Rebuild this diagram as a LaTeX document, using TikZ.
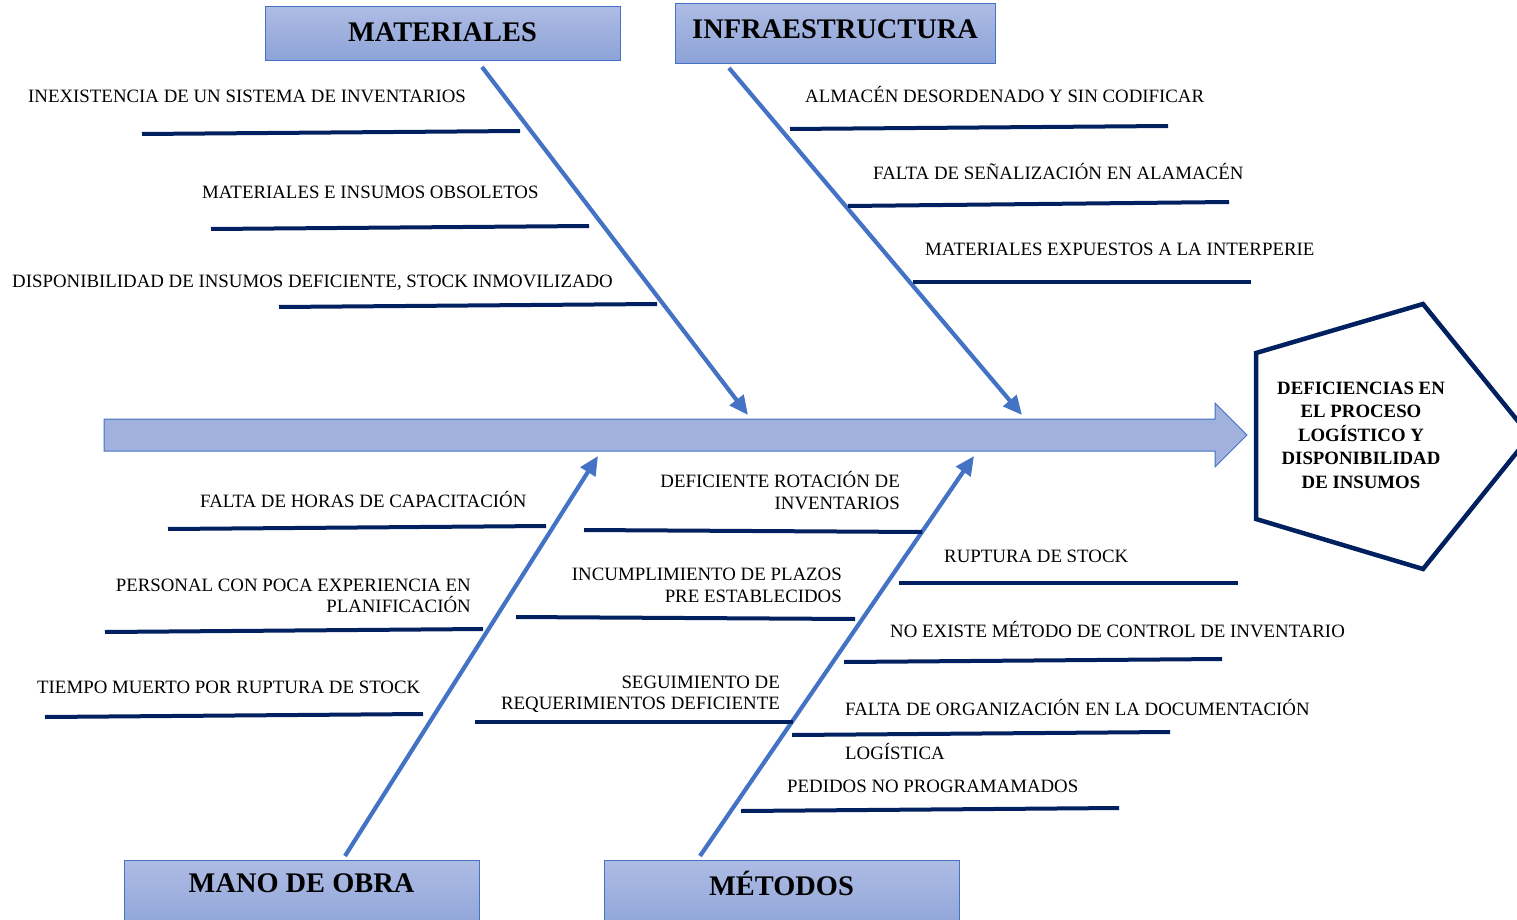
\documentclass[tikz,border=0pt]{standalone}
\usepackage{fontspec}
\setmainfont{Liberation Serif}
\usetikzlibrary{arrows.meta}
\definecolor{navy}{RGB}{0,32,96}
\definecolor{bblue}{RGB}{68,114,196}
\definecolor{boxtop}{RGB}{174,188,228}
\definecolor{boxbot}{RGB}{140,162,215}
\definecolor{arrfill}{RGB}{160,177,221}
\tikzset{
  branch/.style={draw=navy, line width=4pt},
  bone/.style={draw=bblue, line width=4.2pt, -{Triangle[length=19pt,width=17pt]}},
  hdrbox/.style={draw=bblue, line width=1pt, top color=boxtop, bottom color=boxbot},
  hdrtxt/.style={font=\fontsize{28.4}{30}\selectfont\bfseries, inner sep=0pt},
  lbl/.style={font=\fontsize{18.85}{21.5}\selectfont, inner sep=0pt},
}
\begin{document}
\begin{tikzpicture}[x=1pt,y=-1pt]
\useasboundingbox (0,0) rectangle (1517,920);
% main spine arrow
\draw[draw=bblue, line width=1pt, fill=arrfill]
  (104,419) -- (1215,419) -- (1215,403) -- (1247,435) -- (1215,467) -- (1215,451) -- (104,451) -- cycle;
\coordinate (spine) at (1247,435);
% effect pentagon
\draw[navy, line width=4.5pt, line join=miter]
  (1256,353) -- (1423,304) -- (1530,436) -- (1423,569) -- (1256,519) -- cycle;
\node[font=\fontsize{18.8}{23.5}\selectfont\bfseries, align=center, inner sep=0pt] (effect) at (1361,435)
  {DEFICIENCIAS EN\\EL PROCESO\\LOGÍSTICO Y\\DISPONIBILIDAD\\DE INSUMOS};
% header boxes
\draw[hdrbox] (265,7) rectangle (620,61);
\node[hdrtxt] (mat) at (442.5,32) {MATERIALES};
\draw[hdrbox] (675,4) rectangle (995,64);
\node[hdrtxt] (inf) at (835,29) {INFRAESTRUCTURA};
\draw[hdrbox] (124,860) rectangle (479,935);
\node[hdrtxt] (mano) at (301.5,883) {MANO DE OBRA};
\draw[hdrbox] (604,860) rectangle (959,935);
\node[hdrtxt] (met) at (781.5,883) {MÉTODOS};
% bones
\coordinate (matS) at (482,67);   \coordinate (matE) at (748,415);
\coordinate (infS) at (729,68);   \coordinate (infE) at (1022,415);
\coordinate (manS) at (345,856);  \coordinate (manE) at (598,456);
\coordinate (metS) at (700,856);  \coordinate (metE) at (974,456);
\draw[bone] (matS) -- (matE);
\draw[bone] (infS) -- (infE);
\draw[bone] (manS) -- (manE);
\draw[bone] (metS) -- (metE);
% MATERIALES causes
\node[lbl, anchor=base west] (m1) at (28,103) {INEXISTENCIA DE UN SISTEMA DE INVENTARIOS};
\draw[branch] (142,134) -- (520,131);
\node[lbl, anchor=base west] (m2) at (202,198) {MATERIALES E INSUMOS OBSOLETOS};
\draw[branch] (211,229) -- (589,226);
\node[lbl, anchor=base west] (m3) at (12,287) {DISPONIBILIDAD DE INSUMOS DEFICIENTE, STOCK INMOVILIZADO};
\draw[branch] (279,307) -- (657,304);
% INFRAESTRUCTURA causes
\node[lbl, anchor=base west] (i1) at (805,103) {ALMACÉN DESORDENADO Y SIN CODIFICAR};
\draw[branch] (790,129) -- (1168,126);
\node[lbl, anchor=base west] (i2) at (873,180) {FALTA DE SEÑALIZACIÓN EN ALAMACÉN};
\draw[branch] (848,206) -- (1229,202);
\node[lbl, anchor=base west] (i3) at (925,255) {MATERIALES EXPUESTOS A LA INTERPERIE};
\draw[branch] (913,282) -- (1251,282);
% MANO DE OBRA causes
\node[lbl, anchor=base west] (o1) at (200,507) {FALTA DE HORAS DE CAPACITACIÓN};
\draw[branch] (168,529) -- (546,526);
\node[lbl, anchor=base east] (o2a) at (471,591) {PERSONAL CON POCA EXPERIENCIA EN};
\node[lbl, anchor=base east] (o2b) at (471,612) {PLANIFICACIÓN};
\draw[branch] (105,632) -- (483,629);
\node[lbl, anchor=base west] (o3) at (37,693) {TIEMPO MUERTO POR RUPTURA DE STOCK};
\draw[branch] (45,717) -- (423,714);
% middle causes
\node[lbl, anchor=base east] (d1a) at (900,487) {DEFICIENTE ROTACIÓN DE};
\node[lbl, anchor=base east] (d1b) at (900,509) {INVENTARIOS};
\draw[branch] (584,530) -- (922,532);
\node[lbl, anchor=base east] (d2a) at (842,580) {INCUMPLIMIENTO DE PLAZOS};
\node[lbl, anchor=base east] (d2b) at (842,602) {PRE ESTABLECIDOS};
\draw[branch] (516,617) -- (855,619);
\node[lbl, anchor=base east] (d3a) at (780,688) {SEGUIMIENTO DE};
\node[lbl, anchor=base east] (d3b) at (780,709) {REQUERIMIENTOS DEFICIENTE};
\draw[branch] (475,722) -- (793,722);
% METODOS causes
\node[lbl, anchor=base west] (t1) at (944,562) {RUPTURA DE STOCK};
\draw[branch] (899,583) -- (1238,583);
\node[lbl, anchor=base west] (t2) at (890,637) {NO EXISTE MÉTODO DE CONTROL DE INVENTARIO};
\draw[branch] (844,662) -- (1222,659);
\node[lbl, anchor=base west] (t3a) at (845,715) {FALTA DE ORGANIZACIÓN EN LA DOCUMENTACIÓN};
\draw[branch] (792,735) -- (1170,732);
\node[lbl, anchor=base west] (t3b) at (845,759) {LOGÍSTICA};
\node[lbl, anchor=base west] (t4) at (787,792) {PEDIDOS NO PROGRAMAMADOS};
\draw[branch] (741,811) -- (1119,808);
\end{tikzpicture}
\end{document}
